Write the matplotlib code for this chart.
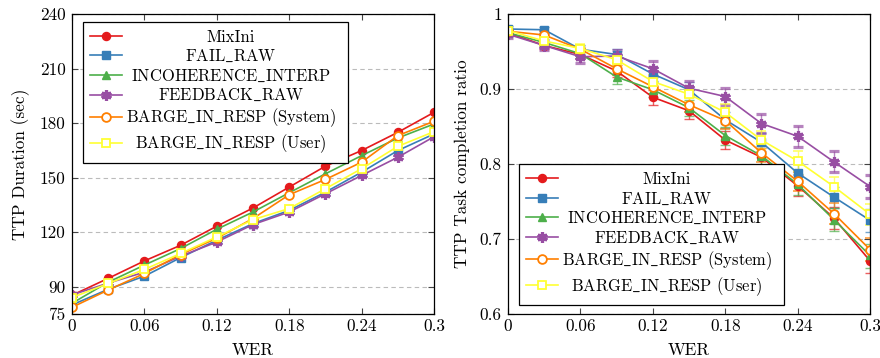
import matplotlib
matplotlib.use("Agg")
import matplotlib.pyplot as plt
from matplotlib.transforms import Bbox
import numpy as np

FS = 12.4
LFS = 11.9
plt.rcParams['font.family'] = ['cmr10', 'DejaVu Serif']
plt.rcParams['mathtext.fontset'] = 'cm'
plt.rcParams['axes.formatter.use_mathtext'] = True
plt.rcParams['font.size'] = FS

wer = [0, 0.03, 0.06, 0.09, 0.12, 0.15, 0.18, 0.21, 0.24, 0.27, 0.30]
labels = ["MixIni", r"FAIL$\_$RAW", r"INCOHERENCE$\_$INTERP", r"FEEDBACK$\_$RAW",
          r"BARGE$\_$IN$\_$RESP (System)", r"BARGE$\_$IN$\_$RESP (User)"]

# TTP Duration (sec)
dur_mixini   = [85.3, 94.6, 104.2, 112.8, 123.3, 133.3, 144.8, 156.3, 164.9, 174.9, 185.9]
dur_fail     = [80.0, 88.6, 95.8, 106.0, 115.6, 124.7, 132.0, 142.0, 153.0, 164.9, 174.0]
dur_incoh    = [80.9, 92.5, 101.9, 111.0, 121.6, 131.1, 141.7, 152.1, 162.1, 171.8, 179.5]
dur_feedback = [85.5, 92.0, 98.0, 106.8, 114.6, 124.2, 131.1, 141.1, 151.2, 161.2, 172.5]
dur_sys      = [78.7, 88.2, 97.3, 107.7, 116.7, 127.5, 140.6, 149.0, 158.5, 173.1, 181.0]
dur_user     = [84.0, 91.8, 99.5, 108.3, 117.4, 126.9, 133.0, 143.9, 154.9, 167.2, 175.3]

# TTP Task completion ratio
tc_mixini   = [0.975, 0.958, 0.946, 0.924, 0.889, 0.871, 0.832, 0.809, 0.771, 0.728, 0.671]
tc_fail     = [0.980, 0.979, 0.953, 0.946, 0.920, 0.899, 0.859, 0.829, 0.788, 0.756, 0.725]
tc_incoh    = [0.975, 0.962, 0.947, 0.916, 0.899, 0.875, 0.838, 0.811, 0.773, 0.726, 0.678]
tc_feedback = [0.973, 0.958, 0.943, 0.944, 0.927, 0.901, 0.890, 0.854, 0.837, 0.803, 0.770]
tc_sys      = [0.977, 0.972, 0.953, 0.927, 0.903, 0.879, 0.858, 0.815, 0.777, 0.734, 0.686]
tc_user     = [0.978, 0.964, 0.954, 0.939, 0.910, 0.893, 0.869, 0.832, 0.804, 0.770, 0.733]

tc_err_mixini   = [0.004, 0.005, 0.006, 0.008, 0.010, 0.011, 0.012, 0.012, 0.014, 0.015, 0.016]
tc_err_fail     = [0.004, 0.004, 0.006, 0.007, 0.009, 0.010, 0.011, 0.012, 0.013, 0.014, 0.015]
tc_err_incoh    = [0.004, 0.005, 0.006, 0.009, 0.010, 0.011, 0.012, 0.013, 0.014, 0.015, 0.016]
tc_err_feedback = [0.005, 0.006, 0.008, 0.008, 0.010, 0.010, 0.011, 0.013, 0.014, 0.014, 0.015]
tc_err_sys      = [0.004, 0.005, 0.006, 0.008, 0.009, 0.010, 0.011, 0.012, 0.013, 0.014, 0.015]
tc_err_user     = [0.004, 0.005, 0.006, 0.008, 0.009, 0.010, 0.011, 0.012, 0.013, 0.013, 0.014]

xticks = [0, 0.06, 0.12, 0.18, 0.24, 0.30]
xticklabels = ["0", "0.06", "0.12", "0.18", "0.24", "0.3"]
yticks_dur = [75, 90, 120, 150, 180, 210, 240]
yticks_tc = [0.6, 0.7, 0.8, 0.9, 1.0]
yticklabels_tc = ["0.6", "0.7", "0.8", "0.9", "1"]

colors = ["#e41a1c", "#377eb8", "#4daf4a", "#984ea3", "#ff7f00", "#ffff33"]
styles = [
    dict(marker='o', mfc=colors[0], ms=5.8),
    dict(marker='s', mfc=colors[1], ms=5.3),
    dict(marker='^', mfc=colors[2], ms=6),
    dict(marker=(6, 2, 0), mfc=colors[3], ms=7.5, mew=2.3),
    dict(marker='o', mfc='white', ms=6.3, mew=1.3),
    dict(marker='s', mfc='white', ms=6.3, mew=1.3),
]

dur_series = [dur_mixini, dur_fail, dur_incoh, dur_feedback, dur_sys, dur_user]
tc_series = [tc_mixini, tc_fail, tc_incoh, tc_feedback, tc_sys, tc_user]
tc_errs = [tc_err_mixini, tc_err_fail, tc_err_incoh, tc_err_feedback, tc_err_sys, tc_err_user]

fig = plt.figure(figsize=(8.8, 3.58), dpi=100)
ax1 = fig.add_axes([72/880, 44/358, 362/880, 300/358])
ax2 = fig.add_axes([508/880, 44/358, 362/880, 300/358])

handles = []
for i in range(6):
    st = dict(styles[i])
    ms = st.pop('ms'); mew = st.pop('mew', 1.0)
    ln, = ax1.plot(wer, dur_series[i], color=colors[i], lw=1.2, ms=ms, mew=mew,
                   mec=colors[i], label=labels[i], **st)
    handles.append(ln)
    eb = ax2.errorbar(wer, tc_series[i], yerr=tc_errs[i], color=colors[i], lw=1.2,
                      ms=ms, mew=mew, mec=colors[i], label=labels[i],
                      ecolor=colors[i], elinewidth=1.0, capsize=3.6, capthick=1.0, **st)
    for c in eb[1]:
        c.set_alpha(0.7)
    for c in eb[2]:
        c.set_alpha(0.7)

def style_axis(ax, yticks, ylabels, ylim, ylabel):
    ax.set_xlim(0, 0.3)
    ax.set_ylim(*ylim)
    ax.set_xticks(xticks)
    ax.set_xticklabels(xticklabels)
    ax.set_yticks(yticks)
    ax.set_yticklabels(ylabels)
    ax.tick_params(direction='in', top=True, right=True, length=4, width=0.8,
                   labelsize=FS, color='#444444')
    ax.tick_params(axis='y', pad=4.5)
    ax.tick_params(axis='x', pad=3.5)
    ax.yaxis.grid(True, linestyle=(0, (4, 3)), color='#bbbbbb', lw=0.8)
    ax.set_axisbelow(True)
    for s in ax.spines.values():
        s.set_linewidth(0.9)
    ax.set_xlabel("WER", fontsize=FS, labelpad=6)
    ax.set_ylabel(ylabel, fontsize=FS, labelpad=7)

style_axis(ax1, yticks_dur, [str(v) for v in yticks_dur], (75, 240), "TTP Duration (sec)")
style_axis(ax2, yticks_tc, yticklabels_tc, (0.6, 1.0), "TTP Task completion ratio")

leg_kw = dict(frameon=True, fancybox=False, edgecolor='black', framealpha=1,
              fontsize=LFS, handlelength=1.9, handletextpad=0.25,
              labelspacing=0.2, borderpad=0.45, borderaxespad=0)
leg1 = ax1.legend(handles=handles, labels=labels, loc='upper left',
                  bbox_to_anchor=(0.0296, 0.973), **leg_kw)
leg2 = ax2.legend(handles=handles, labels=labels, loc='lower left',
                  bbox_to_anchor=(0.03, 0.03), **leg_kw)
for leg in (leg1, leg2):
    leg.get_frame().set_linewidth(0.9)

# center legend texts within their column (pgfplots style)
def center_legend_texts(leg, extra=4):
    col = leg._legend_handle_box.get_children()[0]
    tas = [hp.get_children()[1] for hp in col.get_children()]
    origs = [ta.get_bbox for ta in tas]
    for ta, orig in zip(tas, origs):
        ta._text.set_horizontalalignment('center')
        def nb(renderer, orig=orig):
            bb = orig(renderer)
            W = max(o(renderer).width for o in origs)
            return Bbox.from_bounds(-W / 2, bb.y0, W + extra, bb.height)
        ta.get_bbox = nb

center_legend_texts(leg1)
center_legend_texts(leg2)

fig.savefig("out.png", dpi=100)
